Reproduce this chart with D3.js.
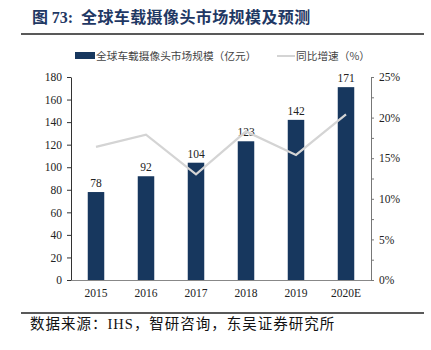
<!DOCTYPE html>
<html>
<head>
<meta charset="utf-8">
<script src="https://cdn.jsdelivr.net/npm/d3@7"></script>
<style>
  body { margin: 0; background: #fff; }
  svg text { font-family: "Liberation Serif", "Noto Sans CJK SC", serif; }
</style>
</head>
<body>
<div id="chart"></div>
<script>
const years = ['2015', '2016', '2017', '2018', '2019', '2020E'];
const marketSize = [78, 92, 104, 123, 142, 171];
const growthRate = [16.4, 17.9, 13.0, 18.3, 15.4, 20.4];
const leftTicks = [0, 20, 40, 60, 80, 100, 120, 140, 160, 180];
const rightTicks = [0, 5, 10, 15, 20, 25];

const width = 431, height = 350;
const margin = {left: 71, right: 60, top: 77, bottom: 70};
const barColor = '#17375e';
const lineColor = '#d4d4d4';

const svg = d3.select('#chart').append('svg')
    .attr('width', width)
    .attr('height', height);

// title
const title = svg.append('text')
    .attr('x', 32).attr('y', 23)
    .attr('fill', '#1f3864')
    .style('font-size', '16px')
    .style('font-weight', 'bold');
title.append('tspan').style('font-family', '"Noto Sans CJK SC"').text('图 ');
title.append('tspan').style('font-family', '"Liberation Serif"').text('73:');
title.append('tspan').style('font-family', '"Noto Sans CJK SC"').attr('dx', 4)
    .style('letter-spacing', '0.4px').text(' 全球车载摄像头市场规模及预测');

svg.append('line').attr('x1', 21).attr('x2', 424).attr('y1', 34).attr('y2', 34)
    .attr('stroke', '#222').attr('stroke-width', 1.5);
svg.append('line').attr('x1', 21).attr('x2', 424).attr('y1', 313).attr('y2', 313)
    .attr('stroke', '#222').attr('stroke-width', 1.5);

const src = svg.append('text')
    .attr('x', 30).attr('y', 329)
    .attr('fill', '#111')
    .style('font-size', '14.5px')
    .style('font-family', '"Noto Sans CJK SC"')
    .style('letter-spacing', '1px');
src.append('tspan').text('数据来源：');
src.append('tspan').style('font-family', '"Liberation Serif"').text('IHS');
src.append('tspan').text('，智研咨询，东吴证券研究所');

const x = d3.scaleBand()
    .domain(years)
    .range([margin.left, width - margin.right])
    .paddingInner(0.67)
    .paddingOuter(0.335);
const y = d3.scaleLinear().domain([0, 180]).range([height - margin.bottom, margin.top]);
const y2 = d3.scaleLinear().domain([0, 25]).range([height - margin.bottom, margin.top]);

// bars
svg.selectAll('.bar')
    .data(marketSize)
    .enter()
    .append('rect')
    .attr('class', 'bar')
    .attr('x', (d, i) => x(years[i]))
    .attr('y', d => y(d))
    .attr('width', x.bandwidth())
    .attr('height', d => y(0) - y(d))
    .attr('fill', barColor);

svg.selectAll('.barLabel')
    .data(marketSize)
    .enter()
    .append('text')
    .attr('class', 'barLabel')
    .attr('x', (d, i) => x(years[i]) + x.bandwidth() / 2)
    .attr('y', d => y(d) - 5)
    .attr('text-anchor', 'middle')
    .attr('fill', '#222')
    .style('font-size', '11.5px')
    .text(d => d);

// line
const line = d3.line()
    .x((d, i) => x(years[i]) + x.bandwidth() / 2)
    .y(d => y2(d));
svg.append('path')
    .datum(growthRate)
    .attr('d', line)
    .attr('fill', 'none')
    .attr('stroke', lineColor)
    .attr('stroke-width', 2.2);

// axes
const xAxis = svg.append('g')
    .attr('transform', 'translate(0,' + y(0) + ')')
    .call(d3.axisBottom(x).tickSize(0).tickPadding(9));
xAxis.select('.domain').attr('stroke', '#888').attr('stroke-width', 1.2);
xAxis.selectAll('text').style('font-size', '11.5px').attr('fill', '#222')
    .style('font-family', '"Liberation Serif"');

const yAxis = svg.append('g')
    .attr('transform', 'translate(' + margin.left + ',0)')
    .call(d3.axisLeft(y).tickValues(leftTicks).tickSize(4).tickSizeOuter(0).tickPadding(5));
yAxis.select('.domain').attr('stroke', '#333');
yAxis.selectAll('line').attr('stroke', '#333');
yAxis.selectAll('text').style('font-size', '11.5px').attr('fill', '#222')
    .style('font-family', '"Liberation Serif"');

const y2Axis = svg.append('g')
    .attr('transform', 'translate(' + (width - margin.right) + ',0)')
    .call(d3.axisRight(y2).tickValues(d3.range(0, 25.1, 2.5)).tickSize(3).tickSizeOuter(0)
        .tickPadding(5)
        .tickFormat(d => rightTicks.includes(d) ? d + '%' : ''));
y2Axis.select('.domain').attr('stroke', '#777');
y2Axis.selectAll('line').attr('stroke', '#777');
y2Axis.selectAll('text').style('font-size', '11.5px').attr('fill', '#222')
    .style('font-family', '"Liberation Serif"');

// legend
const legend = svg.append('g');
legend.append('rect').attr('x', 75).attr('y', 52).attr('width', 20).attr('height', 7).attr('fill', barColor);
legend.append('text').attr('x', 96).attr('y', 60)
    .style('font-size', '10.7px').style('font-family', '"Noto Sans CJK SC"').attr('fill', '#444')
    .text('全球车载摄像头市场规模（亿元）');
legend.append('line').attr('x1', 277).attr('x2', 295).attr('y1', 56).attr('y2', 56)
    .attr('stroke', lineColor).attr('stroke-width', 2);
legend.append('text').attr('x', 296).attr('y', 60)
    .style('font-size', '10.7px').style('font-family', '"Noto Sans CJK SC"').attr('fill', '#444')
    .text('同比增速（%）');
</script>
</body>
</html>
